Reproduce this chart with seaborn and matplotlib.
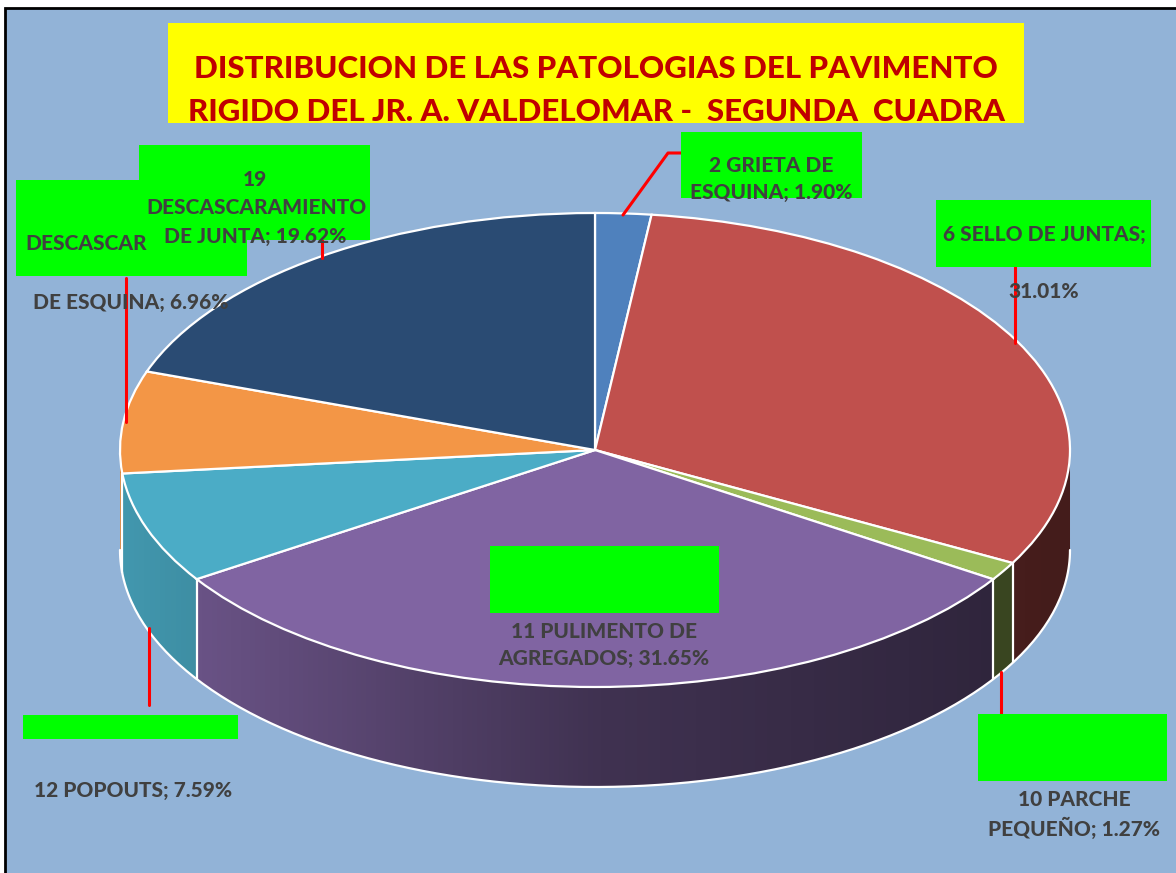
import matplotlib
matplotlib.use("Agg")
import matplotlib.pyplot as plt
import seaborn as sns
import numpy as np
from matplotlib.patches import Rectangle, Polygon

# datos del grafico (porcentajes por patologia, orden horario desde las 12)
patologias = ["2 GRIETA DE ESQUINA", "6 SELLO DE JUNTAS", "10 PARCHE PEQUEÑO",
              "11 PULIMENTO DE AGREGADOS", "12 POPOUTS",
              "DESCASCARAMIENTO DE ESQUINA", "19 DESCASCARAMIENTO DE JUNTA"]
porcentajes = [1.90, 31.01, 1.27, 31.65, 7.59, 6.96, 19.62]
colores = ["#4F81BD", "#C0504D", "#9BBB59", "#8064A2", "#4BACC6", "#F39646", "#2A4B73"]

titulo = "DISTRIBUCION DE LAS PATOLOGIAS DEL PAVIMENTO\nRIGIDO DEL JR. A. VALDELOMAR -  SEGUNDA  CUADRA"

# como quedaron las etiquetas en la hoja (cortes de linea y cajas verdes)
etiq_lineas = [
    ["2 GRIETA DE", "ESQUINA; {p}"],
    ["6 SELLO DE JUNTAS;", "{p}"],
    ["10 PARCHE", "PEQUEÑO; {p}"],
    ["11 PULIMENTO DE", "AGREGADOS; {p}"],
    ["12 POPOUTS; {p}"],
    ["DESCASCAR", "DE ESQUINA; {p}"],
    ["19", "DESCASCARAMIENTO", "DE JUNTA; {p}"],
]

# posiciones en pixeles (layout)
cajas = [(681, 132, 862, 198), (936, 200, 1151, 267), (978, 714, 1167, 781),
         (490, 546, 719, 613), (23, 715, 238, 739), (16, 180, 247, 276),
         (139, 145, 370, 240)]
texto_pos = [
    [(771, 165), (771, 192)],
    [(1044, 235), (1044, 292)],
    [(1074, 800), (1074, 828)],
    [(604, 631), (604, 658)],
    [(133, 791)],
    [(25, 244, "left"), (131, 302)],
    [(255, 180), (256, 208), (255, 237)],
]
guias = [
    [(623, 215), (668, 153), (681, 153)],
    [(1015, 267), (1015, 343)],
    [(1001, 672), (1001, 714)],
    None,
    [(149, 628), (149, 705)],
    [(126, 278), (126, 422)],
    [(322, 240), (322, 258)],
]

W, H = 1176, 873
cx, cy, rx, ry = 595, 450, 475, 237
prof = 100 / ry

sns.set_theme(style="white")
plt.rcParams["font.family"] = ["Lato", "DejaVu Sans"]
paleta = sns.color_palette(colores)

fig = plt.figure(figsize=(W / 100, H / 100), dpi=100)
fig.patch.set_facecolor("white")

ax_bg = fig.add_axes([0, 0, 1, 1])
ax_bg.set_xlim(0, W)
ax_bg.set_ylim(H, 0)
ax_bg.axis("off")
ax_bg.add_patch(Rectangle((5, 8), W + 20, H + 20, facecolor="#92B3D7",
                          edgecolor="black", linewidth=2))

ax = fig.add_axes([0, 0, 1, 1])
ax.patch.set_alpha(0)

# costado 3D: capas del mismo pie desplazadas hacia abajo
for t in np.linspace(prof, 0.004, 110):
    ax.pie(porcentajes, colors=paleta, startangle=90, counterclock=False,
           center=(0, -t), radius=1, wedgeprops=dict(linewidth=0, zorder=1))

# sombreado horizontal del costado
ang = np.linspace(np.pi, 2 * np.pi, 200)
borde = np.column_stack([np.concatenate([np.cos(ang), np.cos(ang[::-1])]),
                         np.concatenate([np.sin(ang), np.sin(ang[::-1]) - prof])])
clip = Polygon(borde, closed=True, facecolor="none", edgecolor="none")
ax.add_patch(clip)
gx = np.linspace(-1, 1, 400)
alpha = np.interp(gx, [-1, -0.83, 0, 0.83, 1], [0.12, 0.18, 0.5, 0.63, 0.65])
grad = np.zeros((1, 400, 4))
grad[..., 3] = alpha
im = ax.imshow(grad, extent=(-1, 1, -1 - prof, 0.05), aspect="auto", zorder=2,
               interpolation="bilinear")
im.set_clip_path(clip)

# bordes blancos del costado
ax.plot(np.cos(ang), np.sin(ang) - prof, color="white", lw=1.6, zorder=3)
limites = 90 - 360 * np.concatenate([[0], np.cumsum(porcentajes)]) / 100
for a in np.radians(limites[:-1]):
    if np.sin(a) < -0.05:
        ax.vlines(np.cos(a), np.sin(a) - prof, np.sin(a), color="white", lw=1.6, zorder=3)

# cara superior
ax.pie(porcentajes, colors=paleta, startangle=90, counterclock=False,
       center=(0, 0), radius=1,
       wedgeprops=dict(linewidth=1.6, edgecolor="white", zorder=4))

ax.set_aspect("auto")
ax.set_xlim(-cx / rx, (W - cx) / rx)
ax.set_ylim((cy - H) / ry, cy / ry)
ax.axis("off")

ax_top = fig.add_axes([0, 0, 1, 1])
ax_top.set_xlim(0, W)
ax_top.set_ylim(H, 0)
ax_top.axis("off")
ax_top.patch.set_alpha(0)

# titulo
ax_top.add_patch(Rectangle((168, 23), 856, 100, facecolor="#FFFF00", edgecolor="none"))
for i, linea in enumerate(titulo.split("\n")):
    ax_top.text(596, 69 + 43 * i, linea, ha="center", va="center", color="#C00000",
                fontsize=22.5, fontweight=900)

texto_color = "#404040"
for i in range(len(porcentajes)):
    x0, y0, x1, y1 = cajas[i]
    ax_top.add_patch(Rectangle((x0, y0), x1 - x0, y1 - y0, facecolor="#00FF00",
                               edgecolor="none", zorder=2))
    if guias[i] is not None:
        gxs, gys = zip(*guias[i])
        ax_top.plot(gxs, gys, color="#FF0000", lw=2.2, zorder=1)
    pct = f"{porcentajes[i]:.2f}%"
    for linea, pos in zip(etiq_lineas[i], texto_pos[i]):
        ha = pos[2] if len(pos) > 2 else "center"
        ax_top.text(pos[0], pos[1], linea.format(p=pct), ha=ha, va="center",
                    color=texto_color, fontsize=15, fontweight=900, zorder=3)

fig.savefig("out.png", dpi=100)
